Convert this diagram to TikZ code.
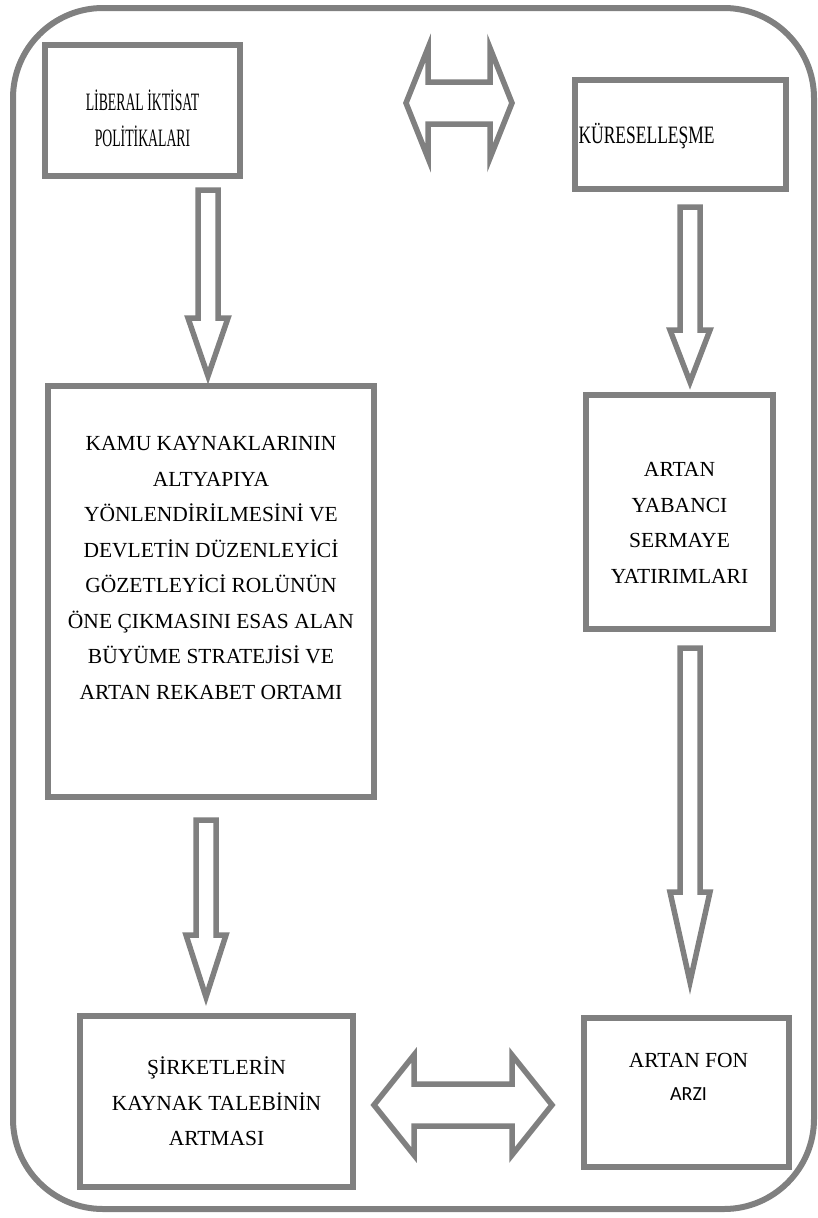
\documentclass[tikz,border=0pt]{standalone}
\usepackage{graphicx}
\usepackage{fontspec}
\setmainfont{Liberation Serif}
\newfontfamily\arzifont{Carlito}
\usepackage{tikz}
\usetikzlibrary{calc,positioning}
\definecolor{Frame}{HTML}{808080}
\definecolor{Ink}{HTML}{000000}

% hollow block arrows
\newcommand\downblock[5]{% x, tail, head base, tip, shaft half
  \draw[blockarrow] (#1-#5,#2) -- (#1+#5,#2) -- (#1+#5,#3) -- (#1+2*#5,#3)
    -- (#1,#4) -- (#1-2*#5,#3) -- (#1-#5,#3) -- cycle;}
\newcommand\twoblock[7]{% y, left tip, left base, right base, right tip, shaft half, head half
  \draw[blockarrow] (#2,#1) -- (#3,#1-#7) -- (#3,#1-#6) -- (#4,#1-#6) -- (#4,#1-#7)
    -- (#5,#1) -- (#4,#1+#7) -- (#4,#1+#6) -- (#3,#1+#6) -- (#3,#1+#7) -- cycle;}
\newcommand\squeeze[2]{\scalebox{#1}[1]{#2}}

\begin{document}
\begin{tikzpicture}[x=1pt,y=-1pt,
  box/.style={draw=Frame,line width=6pt,inner sep=0pt},
  txt/.style={align=center,text=Ink,font=\fontsize{21.5}{35.5}\selectfont},
  blockarrow/.style={draw=Frame,line width=5.5pt,line join=miter}]
\useasboundingbox (0,0) rectangle (817,1218);
\draw[Frame,line width=6pt,rounded corners=90pt] (13,8) rectangle (814,1209);

% boxes
\node[box,minimum width=195,minimum height=131] (lib) at (142.5,110.5) {};
\node[box,minimum width=211,minimum height=109] (kure) at (680.5,134.5) {};
\node[box,minimum width=326,minimum height=411] (kamu) at (211,591.5) {};
\node[box,minimum width=187,minimum height=234] (yab) at (679.5,512) {};
\node[box,minimum width=273,minimum height=171] (sirk) at (216.5,1101.5) {};
\node[box,minimum width=205,minimum height=149] (fon) at (686.5,1092.5) {};

% texts
\node[txt,font=\fontsize{25}{36}\selectfont] (libt) at ($(lib.center)+(0,8)$)
  {\squeeze{.55}{LİBERAL İKTİSAT}\\\squeeze{.55}{POLİTİKALARI}};
\node[txt,font=\fontsize{25}{36}\selectfont,anchor=west] (kuret) at ($(kure.west)+(3,2)$)
  {\squeeze{.7}{KÜRESELLEŞME}};
\node[txt] (kamut) at (211,568)
  {KAMU KAYNAKLARININ\\ALTYAPIYA\\YÖNLENDİRİLMESİNİ VE\\DEVLETİN DÜZENLEYİCİ\\GÖZETLEYİCİ ROLÜNÜN\\ÖNE ÇIKMASINI ESAS ALAN\\BÜYÜME STRATEJİSİ VE\\ARTAN REKABET ORTAMI};
\node[txt] (yabt) at ($(yab.center)+(0,11)$)
  {ARTAN\\YABANCI\\SERMAYE\\YATIRIMLARI};
\node[txt] (sirkt) at ($(sirk.center)+(0,0)$)
  {ŞİRKETLERİN\\KAYNAK TALEBİNİN\\ARTMASI};
\node[txt] (font) at (688.5,1060) {ARTAN FON};
\node[txt,font=\arzifont\fontsize{20}{24}\selectfont] (arzi) at (688.5,1094) {ARZI};

% arrows
\twoblock{103}{406}{428}{490}{512}{21}{55}
\downblock{208}{190}{318}{376}{10}
\downblock{690}{207}{330}{382}{10}
\downblock{690}{648}{892}{982}{10}
\downblock{206}{820}{935}{997}{10}
\twoblock{1105}{374}{414}{512}{552}{21}{50}
\end{tikzpicture}
\end{document}
